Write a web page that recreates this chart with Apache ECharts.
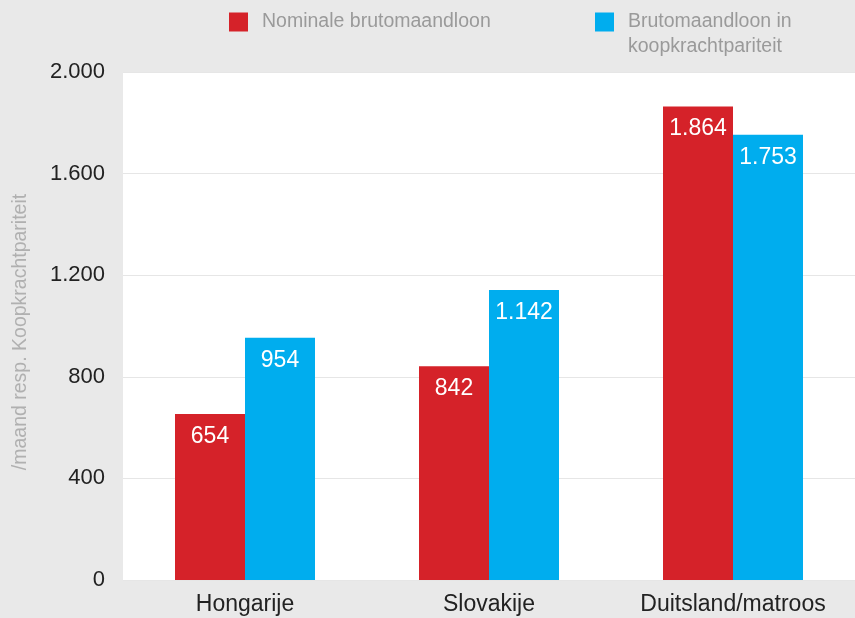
<!DOCTYPE html>
<html><head><meta charset="utf-8">
<script src="https://cdn.jsdelivr.net/npm/echarts@6/dist/echarts.min.js"></script>
<style>html,body{margin:0;padding:0;background:#e9e9e9}#c{width:855px;height:618px}</style>
</head><body><div id="c"></div>
<script>
const categories = ['Hongarije', 'Slovakije', 'Duitsland/matroos'];
const nominal = [654, 842, 1864];
const ppp = [954, 1142, 1753];
const seriesNames = ['Nominale brutomaandloon', 'Brutomaandloon in koopkrachtpariteit'];
const legendLines = ['Brutomaandloon in', 'koopkrachtpariteit'];
const yTicks = [0, 400, 800, 1200, 1600, 2000];
const yAxisName = '/maand resp. Koopkrachtpariteit';

const fmt = v => String(v).replace(/\B(?=(\d{3})+(?!\d))/g, '.');
const font = '"Liberation Sans", Arial, sans-serif';
const chart = echarts.init(document.getElementById('c'));
const labelCfg = {show: true, position: 'insideTop', distance: 11, color: '#fff', fontSize: 23, fontFamily: font, formatter: p => fmt(p.value)};
const legTxt = {color: '#9a9a9a', fontSize: 19.5, fontFamily: font, lineHeight: 25, padding: [0, 0, 0, 9]};
chart.setOption({
  backgroundColor: '#e9e9e9',
  animation: false,
  legend: [
    {data: [seriesNames[0]], left: 224, top: 7, itemWidth: 19, itemHeight: 19, icon: 'rect',
     formatter: n => '{t|' + n + '}',
     textStyle: {color: '#9a9a9a', fontSize: 19.5, fontFamily: font, rich: {t: legTxt}}},
    {data: [seriesNames[1]], left: 590, top: -18, itemWidth: 19, itemHeight: 19, icon: 'rect',
     formatter: () => '{t| }\n{t|' + legendLines[0] + '}\n{t|' + legendLines[1] + '}',
     textStyle: {color: '#9a9a9a', fontSize: 19.5, fontFamily: font, rich: {t: legTxt}}}
  ],
  grid: {left: 123, right: 0, top: 72, bottom: 38, show: true, backgroundColor: '#fff', borderWidth: 0},
  xAxis: {type: 'category', data: categories, axisLine: {show: false}, axisTick: {show: false},
    axisLabel: {color: '#222', fontSize: 23, fontFamily: font, margin: 13}},
  yAxis: {type: 'value', min: yTicks[0], max: yTicks[yTicks.length - 1], interval: 400,
    name: yAxisName, nameLocation: 'middle', nameGap: 92, nameRotate: 90,
    nameTextStyle: {color: '#b0b0b0', fontSize: 19.5, fontFamily: font, padding: [0, 12, 0, 0]},
    axisLine: {show: false}, axisTick: {show: false},
    splitLine: {lineStyle: {color: '#e6e6e6', width: 1}},
    axisLabel: {color: '#222', fontSize: 22, fontFamily: font, margin: 18, formatter: v => fmt(v)}},
  series: [
    {name: seriesNames[0], type: 'bar', data: nominal, barWidth: 70, barGap: '0%', itemStyle: {color: '#d52229'}, label: labelCfg},
    {name: seriesNames[1], type: 'bar', data: ppp, barWidth: 70, itemStyle: {color: '#00adee'}, label: labelCfg}
  ]
});
</script></body></html>
